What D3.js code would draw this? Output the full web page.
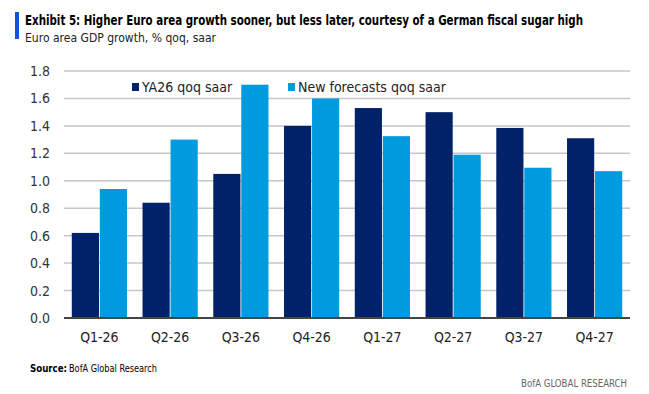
<!DOCTYPE html>
<html>
<head>
<meta charset="utf-8">
<script src="https://cdnjs.cloudflare.com/ajax/libs/d3/7.8.5/d3.min.js"></script>
<style>
  body { margin: 0; background: #fff; }
  text { font-family: "Liberation Sans Narrow", "DejaVu Sans Condensed", sans-serif; }
</style>
</head>
<body>
<div class="chart"></div>
<script>
const quarters = ["Q1-26", "Q2-26", "Q3-26", "Q4-26", "Q1-27", "Q2-27", "Q3-27", "Q4-27"];
const ya26 = [0.62, 0.84, 1.05, 1.40, 1.53, 1.50, 1.385, 1.31];
const newForecasts = [0.94, 1.30, 1.70, 1.60, 1.325, 1.19, 1.095, 1.07];
const seriesNames = ["YA26 qoq saar", "New forecasts qoq saar"];
const yTicks = [0, 0.2, 0.4, 0.6, 0.8, 1.0, 1.2, 1.4, 1.6, 1.8];

const colors = ["#012169", "#009ade"];
const w = 649, h = 394;
const margin = { top: 71, right: 19, bottom: 76, left: 64 };
const chartWidth = w - margin.left - margin.right;
const chartHeight = h - margin.top - margin.bottom;

const svg = d3.select('.chart')
    .append('svg')
    .attr('width', w)
    .attr('height', h);

// header
svg.append('rect').attr('x', 15).attr('y', 12).attr('width', 4).attr('height', 27).attr('fill', '#0a55d0');
svg.append('text').attr('x', 25).attr('y', 25)
    .attr('font-size', 14).attr('font-weight', 'bold').attr('fill', '#000')
    .attr('textLength', 558).attr('lengthAdjust', 'spacingAndGlyphs')
    .text('Exhibit 5: Higher Euro area growth sooner, but less later, courtesy of a German fiscal sugar high');
svg.append('text').attr('x', 25).attr('y', 42)
    .attr('font-size', 13).attr('fill', '#222')
    .attr('textLength', 191).attr('lengthAdjust', 'spacingAndGlyphs')
    .text('Euro area GDP growth, % qoq, saar');

const g = svg.append('g')
    .attr('transform', 'translate(' + margin.left + ',' + margin.top + ')');

const yScale = d3.scaleLinear().domain([0, 1.8]).range([chartHeight, 0]);
const x0 = d3.scaleBand().domain(quarters).range([0, chartWidth]).paddingInner(0.22).paddingOuter(0.11);
const x1 = d3.scaleBand().domain([0, 1]).range([0, x0.bandwidth()]).paddingInner(0.03);

// gridlines
g.append('g')
    .selectAll('line')
    .data(yTicks.filter(d => d > 0))
    .enter()
    .append('line')
    .attr('x1', 0).attr('x2', chartWidth)
    .attr('y1', d => yScale(d)).attr('y2', d => yScale(d))
    .attr('stroke', '#c6c6c6').attr('stroke-width', 1.5);

const yAxis = d3.axisLeft(yScale).tickValues(yTicks).tickFormat(d3.format('.1f')).tickSize(0).tickPadding(14);
g.append('g').call(yAxis)
    .call(a => a.select('.domain').remove())
    .call(a => a.selectAll('text').attr('font-size', 14).attr('fill', '#333').attr('font-family', '"Liberation Sans Narrow", "DejaVu Sans Condensed", sans-serif'));

const rows = quarters.map((q, i) => ({ q: q, vals: [ya26[i], newForecasts[i]] }));

g.selectAll('.grp')
    .data(rows)
    .enter()
    .append('g')
    .attr('transform', d => 'translate(' + x0(d.q) + ',0)')
    .selectAll('rect')
    .data(d => d.vals)
    .enter()
    .append('rect')
    .attr('x', (d, i) => x1(i))
    .attr('width', x1.bandwidth())
    .attr('y', d => yScale(d))
    .attr('height', d => chartHeight - yScale(d))
    .attr('fill', (d, i) => colors[i]);

// baseline
g.append('line').attr('x1', 0).attr('x2', chartWidth)
    .attr('y1', chartHeight).attr('y2', chartHeight)
    .attr('stroke', '#444').attr('stroke-width', 2);

const xAxis = d3.axisBottom(x0).tickSize(0).tickPadding(14);
g.append('g').attr('transform', 'translate(0,' + chartHeight + ')').call(xAxis)
    .call(a => a.select('.domain').remove())
    .call(a => a.selectAll('text').attr('font-size', 14).attr('fill', '#222').attr('font-family', '"Liberation Sans Narrow", "DejaVu Sans Condensed", sans-serif'));

// legend
const legendX = [68, 224];
const legend = g.selectAll('.leg').data(seriesNames).enter().append('g')
    .attr('transform', (d, i) => 'translate(' + legendX[i] + ',12)');
legend.append('rect').attr('x', 0).attr('y', 0).attr('width', 7).attr('height', 8).attr('fill', (d, i) => colors[i]);
legend.append('text').attr('x', 10).attr('y', 9).attr('font-size', 14).attr('fill', '#222').text(d => d);

// footer
svg.append('text').attr('x', 30).attr('y', 372).attr('font-size', 11).attr('fill', '#000')
    .attr('font-weight', 'bold')
    .attr('textLength', 37).attr('lengthAdjust', 'spacingAndGlyphs')
    .text('Source:');
svg.append('text').attr('x', 69).attr('y', 372).attr('font-size', 11).attr('fill', '#000')
    .attr('textLength', 88).attr('lengthAdjust', 'spacingAndGlyphs')
    .text('BofA Global Research');
svg.append('text').attr('x', 627).attr('y', 387).attr('text-anchor', 'end')
    .attr('font-size', 11).attr('fill', '#666')
    .attr('textLength', 106).attr('lengthAdjust', 'spacingAndGlyphs')
    .text('BofA GLOBAL RESEARCH');
</script>
</body>
</html>
